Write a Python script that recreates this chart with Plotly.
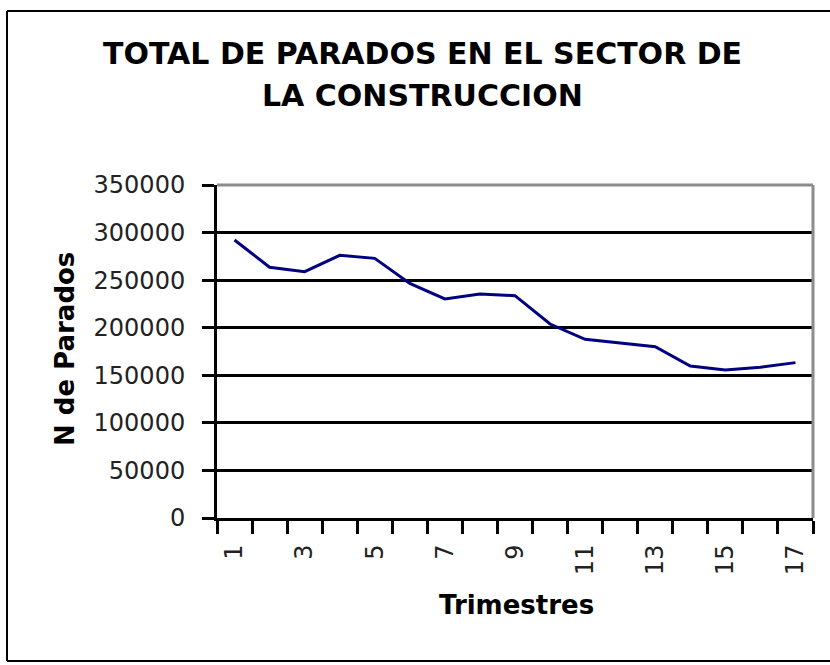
import plotly.graph_objects as go

trimestres = list(range(1, 18))
parados = [292200, 263500, 258900, 276100, 272900, 246600, 230200, 235400, 233700,
           203900, 187800, 184300, 180100, 159800, 155600, 158400, 163300]
x_tick_vals = [1, 3, 5, 7, 9, 11, 13, 15, 17]
x_tick_text = [str(v) for v in x_tick_vals]
y_tick_vals = [0, 50000, 100000, 150000, 200000, 250000, 300000, 350000]
y_tick_text = [str(v) for v in y_tick_vals]
title_lines = ["TOTAL DE PARADOS EN EL SECTOR DE", "LA CONSTRUCCION"]
x_title = "Trimestres"
y_title = "N de Parados"

W, H = 830, 665
L, R, T, B = 217, 17, 185, 147
pw, ph = W - L - R, H - T - B


def px(x):
    return (x - L) / pw


def py(y):
    return (H - B - y) / ph


fig = go.Figure()
fig.add_trace(go.Scatter(x=trimestres, y=parados, mode="lines",
                         line=dict(color="#000080", width=3), hoverinfo="skip",
                         showlegend=False))

font_main = "DejaVu Sans"
frame = dict(color="black", width=2)

fig.update_layout(
    width=W, height=H,
    margin=dict(l=L, r=R, t=T, b=B),
    paper_bgcolor="white", plot_bgcolor="white",
    showlegend=False,
    xaxis=dict(
        range=[0.5, 17.5], tickmode="array", tickvals=x_tick_vals, ticktext=x_tick_text,
        tickangle=-90, ticks="", showgrid=False, zeroline=False,
        showline=True, linecolor="black", linewidth=3,
        tickfont=dict(family=font_main, size=24, color="#222"),
        ticklabelstandoff=14,
        minor=dict(tickmode="array", tickvals=[i + 0.5 for i in range(0, 18)],
                   ticks="outside", ticklen=13, tickwidth=3, tickcolor="black",
                   showgrid=False),
    ),
    yaxis=dict(
        range=[0, 350000], tickmode="array", tickvals=y_tick_vals, ticktext=y_tick_text,
        ticks="outside", ticklen=12, tickwidth=3, tickcolor="black",
        showgrid=True, gridcolor="black", gridwidth=3, zeroline=False,
        showline=True, linecolor="black", linewidth=3,
        tickfont=dict(family=font_main, size=24, color="#222"),
        ticklabelstandoff=12,
    ),
    shapes=[
        dict(type="line", xref="paper", yref="paper", x0=0, x1=1, y0=1, y1=1,
             line=dict(color="#8c8c8c", width=3), layer="above"),
        dict(type="line", xref="paper", yref="paper", x0=1, x1=1, y0=0, y1=1,
             line=dict(color="#8c8c8c", width=3), layer="above"),
        dict(type="line", xref="paper", yref="paper", x0=px(7), x1=px(7),
             y0=py(661), y1=py(11), line=frame, layer="above"),
        dict(type="line", xref="paper", yref="paper", x0=px(7), x1=px(830),
             y0=py(11), y1=py(11), line=frame, layer="above"),
        dict(type="line", xref="paper", yref="paper", x0=px(7), x1=px(830),
             y0=py(661), y1=py(661), line=frame, layer="above"),
    ],
    annotations=[
        dict(text=title_lines[0], xref="paper", yref="paper", x=px(422.5), y=py(53.5),
             xanchor="center", yanchor="middle", showarrow=False,
             font=dict(family=font_main, size=30, color="black", weight="bold")),
        dict(text=title_lines[1], xref="paper", yref="paper", x=px(422.5), y=py(95.5),
             xanchor="center", yanchor="middle", showarrow=False,
             font=dict(family=font_main, size=30, color="black", weight="bold")),
        dict(text=y_title, xref="paper", yref="paper", x=px(65), y=py(349),
             xanchor="center", yanchor="middle", showarrow=False, textangle=-90,
             font=dict(family=font_main, size=26, color="black", weight="bold")),
        dict(text=x_title, xref="paper", yref="paper", x=px(516), y=py(605),
             xanchor="center", yanchor="middle", showarrow=False,
             font=dict(family=font_main, size=26, color="black", weight="bold")),
    ],
)

fig.write_html("out.html", config={"displayModeBar": False},
               post_script="document.body.style.margin='0';document.body.style.overflow='hidden';")
